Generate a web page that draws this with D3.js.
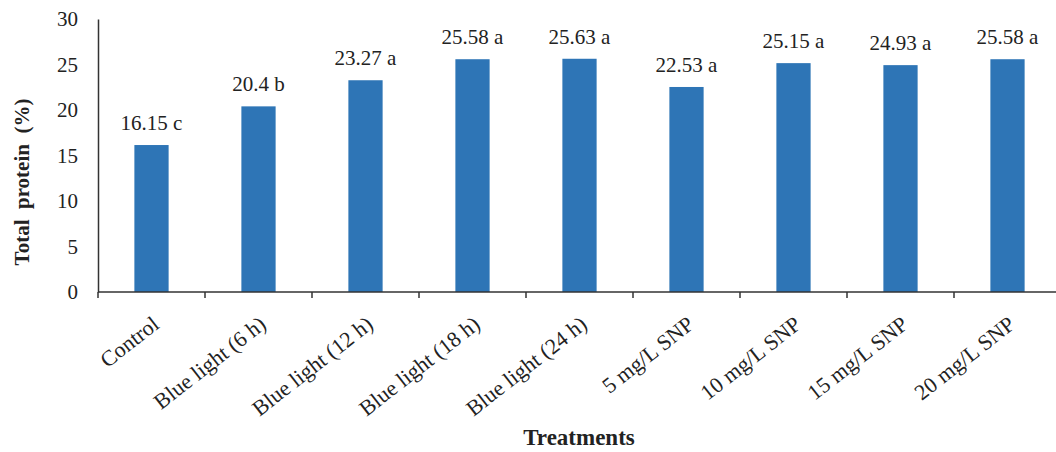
<!DOCTYPE html>
<html>
<head>
<meta charset="utf-8">
<script src="https://cdn.jsdelivr.net/npm/d3@7"></script>
<style>
  body { margin: 0; background: #fff; }
  text { font-family: "Liberation Serif", "Times New Roman", serif; fill: #222; }
</style>
</head>
<body>
<script>
// chart data
var treatments = ["Control", "Blue light (6 h)", "Blue light (12 h)", "Blue light (18 h)",
                  "Blue light (24 h)", "5 mg/L SNP", "10 mg/L SNP", "15 mg/L SNP", "20 mg/L SNP"];
var protein = [16.15, 20.4, 23.27, 25.58, 25.63, 22.53, 25.15, 24.93, 25.58];
var letters = ["c", "b", "a", "a", "a", "a", "a", "a", "a"];
var yTicks = [0, 5, 10, 15, 20, 25, 30];

var W = 1056, H = 452;
var margin = {top: 19, left: 98, bottom: 160};
var plotH = H - margin.top - margin.bottom;   // 273
var step = 107;

var svg = d3.select("body").append("svg")
    .attr("width", W)
    .attr("height", H);

var x = d3.scaleBand()
    .domain(treatments)
    .range([margin.left, margin.left + step * treatments.length])
    .paddingInner(0.68)
    .paddingOuter(0.34);

var y = d3.scaleLinear()
    .domain([0, 30])
    .range([margin.top + plotH, margin.top]);

var data = treatments.map(function(t, i) {
  return {name: t, value: protein[i], letter: letters[i]};
});

// bars
svg.selectAll("rect.bar")
  .data(data).enter()
  .append("rect")
    .attr("class", "bar")
    .attr("x", function(d) { return x(d.name); })
    .attr("y", function(d) { return y(d.value); })
    .attr("width", x.bandwidth())
    .attr("height", function(d) { return y(0) - y(d.value); })
    .attr("fill", "#2e75b6");

// value labels
svg.selectAll("text.val")
  .data(data).enter()
  .append("text")
    .attr("class", "val")
    .attr("x", function(d) { return x(d.name) + x.bandwidth() / 2; })
    .attr("y", function(d) { return y(d.value) - 15; })
    .attr("text-anchor", "middle")
    .style("font-size", "21px")
    .text(function(d) { return d.value + " " + d.letter; });

// y axis
var yAxis = svg.append("g")
    .attr("transform", "translate(" + margin.left + ",0)")
    .call(d3.axisLeft(y).tickValues(yTicks).tickSize(0).tickPadding(20));
yAxis.select(".domain").attr("stroke", "#333").attr("stroke-width", 1.5);
yAxis.selectAll("text")
    .style("font-size", "21px")
    .style("font-family", "Liberation Serif, serif")
    .attr("fill", "#222");

// x axis line and ticks at category boundaries
var bounds = treatments.map(function(t) { return x(t) + x.bandwidth() / 2 - x.step() / 2; });
bounds.push(x.range()[1]);
svg.append("line")
    .attr("x1", margin.left).attr("x2", x.range()[1])
    .attr("y1", y(0)).attr("y2", y(0))
    .attr("stroke", "#333").attr("stroke-width", 1.5);
svg.selectAll("line.xtick")
  .data(bounds).enter()
  .append("line")
    .attr("class", "xtick")
    .attr("x1", function(d) { return d; }).attr("x2", function(d) { return d; })
    .attr("y1", y(0)).attr("y2", y(0) + 6)
    .attr("stroke", "#333").attr("stroke-width", 1.5);

// x category labels, rotated
svg.selectAll("text.cat")
  .data(treatments).enter()
  .append("text")
    .attr("class", "cat")
    .attr("text-anchor", "end")
    .style("font-size", "22px")
    .attr("transform", function(d) {
      return "translate(" + (x(d) + x.bandwidth() / 2 + 9) + "," + (y(0) + 35) + ") rotate(-38)";
    })
    .text(function(d) { return d; });

// axis titles
svg.append("text")
    .attr("x", 579)
    .attr("y", 445)
    .attr("text-anchor", "middle")
    .style("font-size", "23px")
    .style("font-weight", "bold")
    .text("Treatments");

svg.append("text")
    .attr("transform", "translate(29,182) rotate(-90)")
    .attr("text-anchor", "middle")
    .style("font-size", "21px")
    .style("font-weight", "bold")
    .style("white-space", "pre")
    .attr("xml:space", "preserve")
    .text("Total  protein  (%)");
</script>
</body>
</html>
